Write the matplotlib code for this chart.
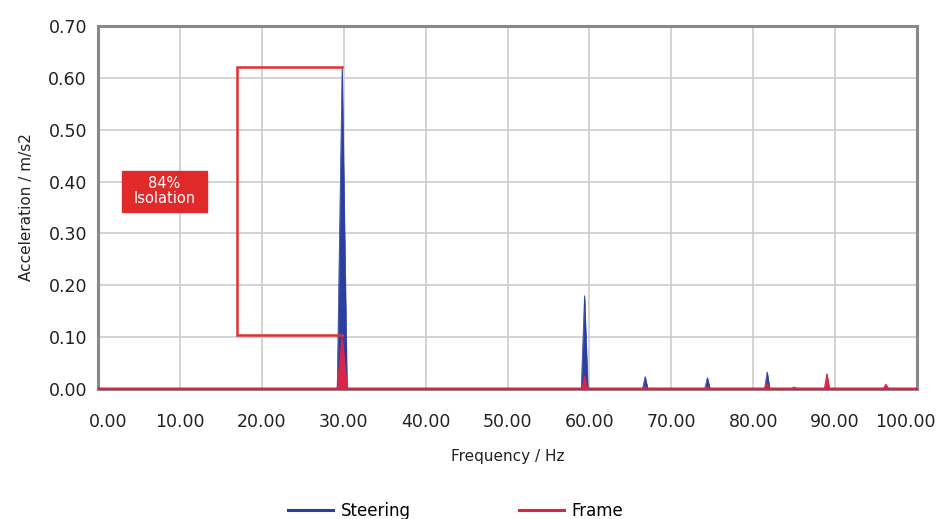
import matplotlib.pyplot as plt
from matplotlib.patches import Rectangle
from matplotlib.lines import Line2D
from matplotlib.transforms import ScaledTranslation

# spectrum points (Hz, m/s2)
steering_freq = [0, 29.2, 29.8, 30.4, 59.0, 59.4, 59.8, 66.5, 66.8, 67.1,
                 74.1, 74.4, 74.7, 81.4, 81.7, 82.0, 84.8, 85.0, 85.2, 100]
steering_acc = [0.002, 0.002, 0.62, 0.002, 0.002, 0.18, 0.002, 0.002, 0.024, 0.002,
                0.002, 0.022, 0.002, 0.002, 0.033, 0.002, 0.002, 0.004, 0.002, 0.002]

frame_freq = [0, 29.2, 29.8, 30.4, 59.1, 59.4, 59.7, 66.6, 66.8, 67.0,
              74.2, 74.4, 74.6, 81.5, 81.7, 81.9, 84.7, 85.0, 85.3,
              88.7, 89.0, 89.3, 95.9, 96.2, 96.5, 100]
frame_acc = [0.001, 0.001, 0.10, 0.001, 0.001, 0.025, 0.001, 0.001, 0.005, 0.001,
             0.001, 0.005, 0.001, 0.001, 0.012, 0.001, 0.001, 0.003, 0.001,
             0.001, 0.029, 0.001, 0.001, 0.009, 0.001, 0.001]

x_ticks = [0, 10, 20, 30, 40, 50, 60, 70, 80, 90, 100]
y_ticks = [0.0, 0.1, 0.2, 0.3, 0.4, 0.5, 0.6, 0.7]

blue = '#2b3f9e'
red = '#dc2448'

fig = plt.figure(figsize=(9.39, 5.19), dpi=100)
ax = fig.add_axes([98 / 939, 1 - 389 / 519, 819 / 939, 363 / 519])

ax.fill_between(steering_freq, steering_acc, 0, color=blue, lw=0.4, zorder=3)
ax.plot(steering_freq, steering_acc, color=blue, lw=0.5, zorder=3)
ax.fill_between(frame_freq, frame_acc, 0, color=red, lw=0.4, zorder=4)
ax.plot(frame_freq, frame_acc, color=red, lw=0.8, zorder=4)

ax.set_xlim(0, 100)
ax.set_ylim(0, 0.70)
ax.set_xticks(x_ticks)
ax.set_yticks(y_ticks)
ax.set_xticklabels([f'{v:.2f}' for v in x_ticks])
ax.set_yticklabels([f'{v:.2f}' for v in y_ticks])
ax.tick_params(length=0, labelsize=12.5, colors='#222222')
ax.tick_params(axis='x', pad=17)
ax.tick_params(axis='y', pad=8)

# first / last x labels are pulled inwards as in the original
xl = ax.get_xticklabels()
xl[0].set_transform(xl[0].get_transform() + ScaledTranslation(10 / 100, 0, fig.dpi_scale_trans))
xl[-1].set_transform(xl[-1].get_transform() + ScaledTranslation(-12 / 100, 0, fig.dpi_scale_trans))

ax.grid(True, color='#cccccc', lw=1.2, zorder=0)
ax.set_axisbelow(True)
for s in ax.spines.values():
    s.set_color('#888888')
    s.set_linewidth(2.2)

ax.set_xlabel('Frequency / Hz', fontsize=11, color='#222222', labelpad=13)
ax.set_ylabel('Acceleration / m/s2', fontsize=11, color='#222222', labelpad=10)

# isolation bracket
ax.plot([29.8, 17.0, 17.0, 29.8], [0.621, 0.621, 0.105, 0.105],
        color='#e03030', lw=1.8, zorder=5, solid_joinstyle='miter')
ax.add_patch(Rectangle((2.93, 0.342), 10.4, 0.079, color='#e02a2a', zorder=6))
ax.text(8.13, 0.3815, '84%\nIsolation', color='white', fontsize=10.5,
        ha='center', va='center', linespacing=1.0, zorder=7)

handles = [Line2D([], [], color=blue, lw=2.2), Line2D([], [], color=red, lw=2.2)]
fig.legend(handles, ['Steering', 'Frame'], loc='center',
           bbox_to_anchor=(456 / 939, 8 / 519), ncol=2,
           frameon=False, fontsize=12, handlelength=2.7, handletextpad=0.45,
           columnspacing=6.5)

fig.savefig('out.png', dpi=100)
